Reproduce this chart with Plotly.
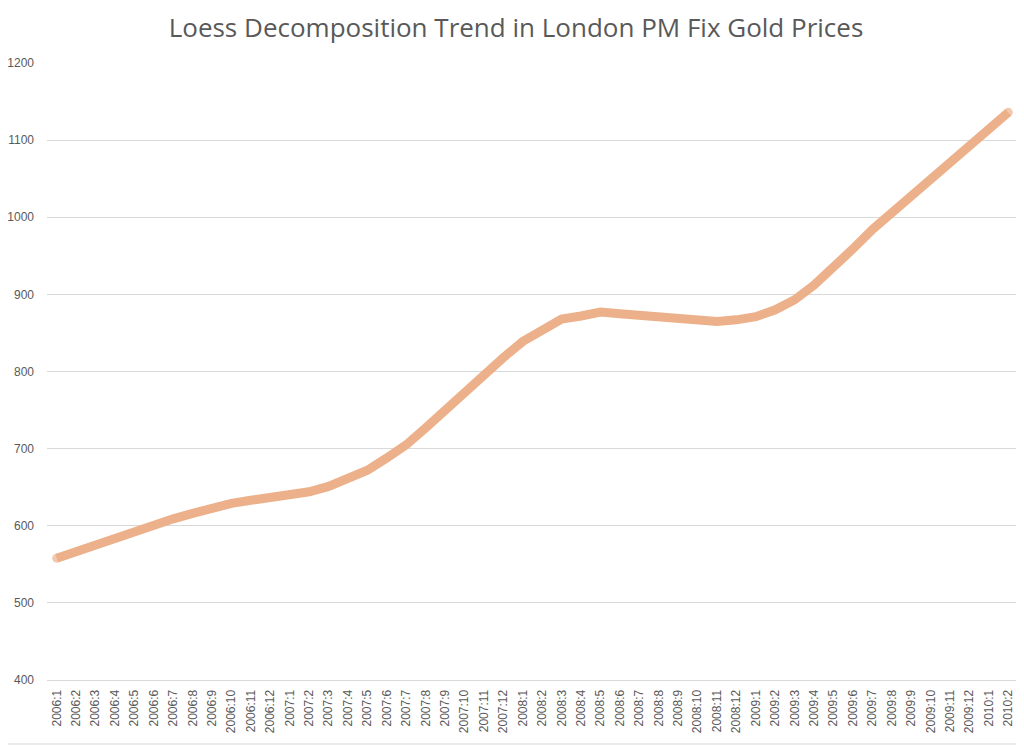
import plotly.graph_objects as go

months = [f"{y}:{m}" for y, m in
          [(2006, m) for m in range(1, 13)] +
          [(2007, m) for m in range(1, 13)] +
          [(2008, m) for m in range(1, 13)] +
          [(2009, m) for m in range(1, 13)] +
          [(2010, 1), (2010, 2)]]

trend = [558, 567, 576, 585, 594, 602, 609, 616, 624, 629, 633, 636,
         639, 644, 651, 661, 672, 688, 705, 727, 750, 772, 797, 818,
         839, 853, 868, 872, 877, 875, 873, 871, 867, 865, 865, 867,
         871, 880, 893, 912, 934, 959, 984, 1006, 1028, 1048, 1069, 1091,
         1113, 1136]

y_ticks = [400, 500, 600, 700, 800, 900, 1000, 1100, 1200]

line_color = "#ECB08A"
cap_sizes = [9] + [0] * (len(trend) - 2) + [9]

fig = go.Figure()
fig.add_trace(go.Scatter(
    x=months, y=trend, mode="lines+markers",
    line=dict(color=line_color, width=9),
    marker=dict(color=line_color, size=cap_sizes, line=dict(width=0)),
    hoverinfo="x+y", showlegend=False,
))

# page body has an 8px default margin, so the figure is sized to fit the window
fig.update_layout(
    width=1016, height=738,
    paper_bgcolor="white", plot_bgcolor="white",
    margin=dict(l=39, r=6, t=55, b=66, autoexpand=False),
    title=dict(text="Loess Decomposition Trend in London PM Fix Gold Prices",
               x=0.5, xanchor="center", y=0.973, yanchor="middle",
               font=dict(family="Open Sans", size=26, color="#595959")),
    xaxis=dict(type="category", categoryorder="array", categoryarray=months,
               tickangle=-90, showgrid=False, zeroline=False, automargin=False,
               showline=True, linecolor="#D9D9D9", linewidth=1,
               ticks="", ticklabelstandoff=4,
               tickfont=dict(family="Liberation Sans, Arial", size=12, color="#595959"),
               range=[-0.5, len(months) - 0.5]),
    yaxis=dict(range=[400, 1200], tickvals=y_ticks, showgrid=True, automargin=False,
               gridcolor="#D9D9D9", gridwidth=1, zeroline=False,
               showline=False, ticks="", ticklabelstandoff=12,
               tickfont=dict(family="Liberation Sans, Arial", size=12, color="#595959")),
)

fig.add_shape(type="line", xref="paper", yref="paper", x0=-0.05, x1=1.02,
              y0=-0.1037, y1=-0.1037, line=dict(color="#D9D9D9", width=1))

fig.write_html("out.html")
